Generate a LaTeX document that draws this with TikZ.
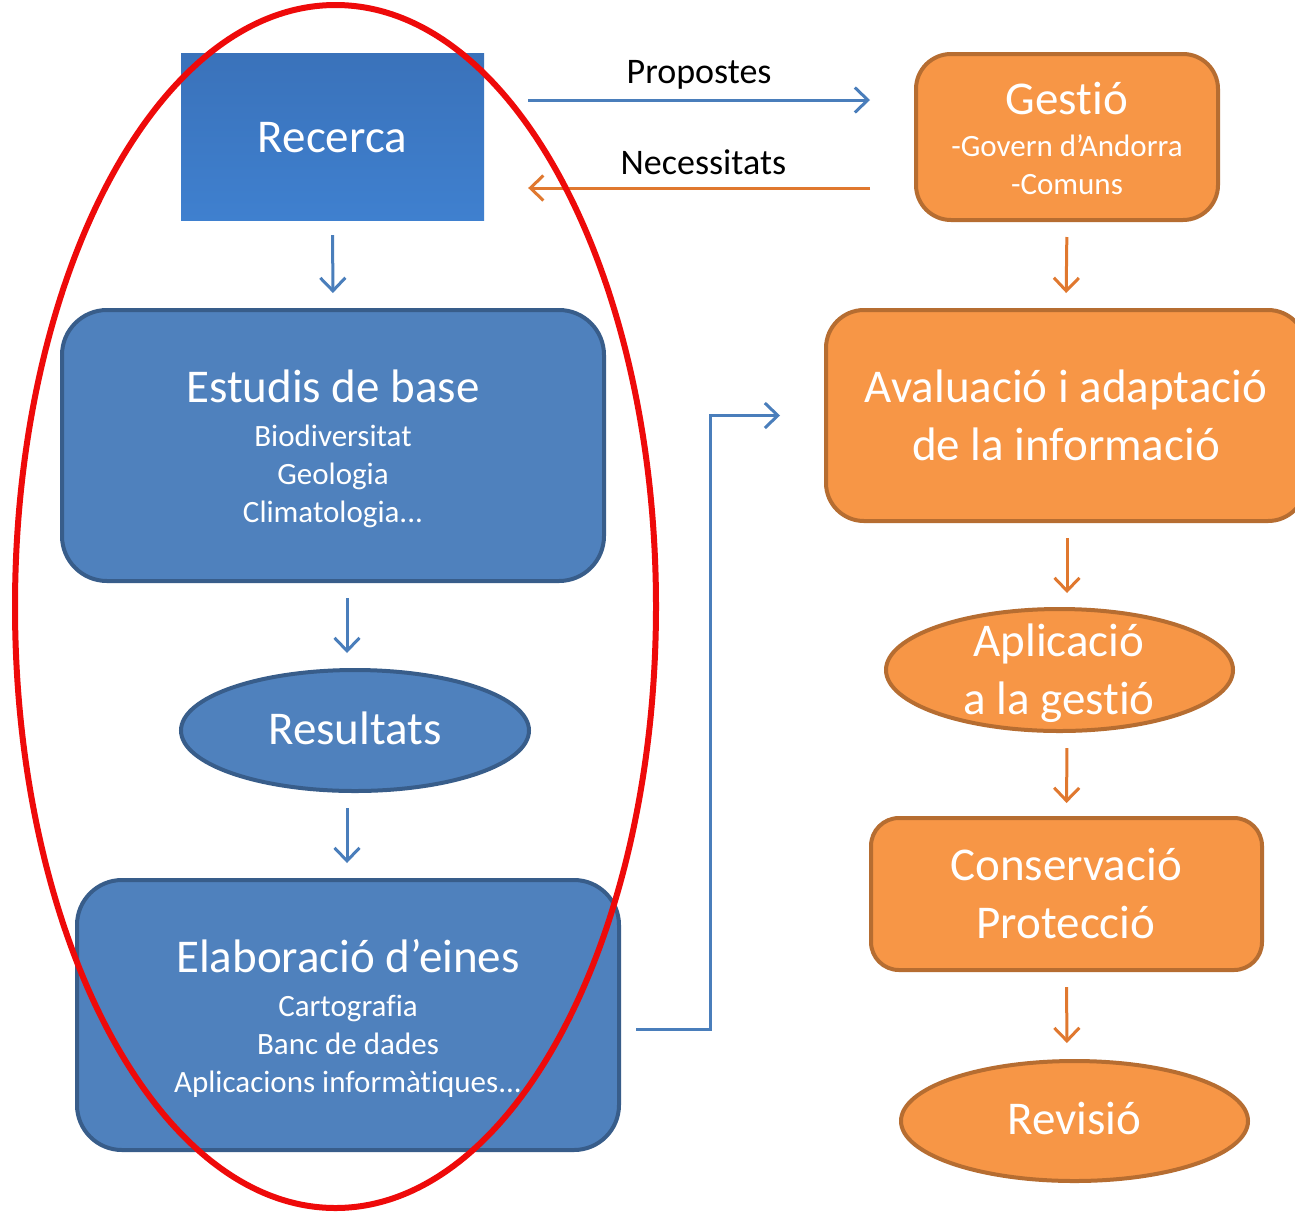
\documentclass[tikz,border=0pt]{standalone}
\usepackage{fontspec}
\setmainfont{Carlito}[Ligatures={NoCommon}]
\usetikzlibrary{shapes.geometric,arrows.meta}
\definecolor{bfill}{HTML}{4F81BD}
\definecolor{bline}{HTML}{385D8A}
\definecolor{ofill}{HTML}{F79646}
\definecolor{oline}{HTML}{B66D31}
\definecolor{barr}{HTML}{4A7EBB}
\definecolor{oarr}{HTML}{E0782F}
\definecolor{rtop}{HTML}{3A72BA}
\definecolor{rbot}{HTML}{3F80CF}
\definecolor{ellred}{HTML}{EE0A0A}
\newcommand{\fntbig}{\fontsize{47}{58}\selectfont}
\newcommand{\fntsmall}{\fontsize{31}{37.8}\selectfont}
\newcommand{\fntlab}{\fontsize{36}{43}\selectfont}
\begin{document}
\begin{tikzpicture}[x=1pt,y=-1pt,
  box/.style={rectangle, line width=4pt, inner sep=0pt, text=white},
  bluebox/.style={box, fill=bfill, draw=bline},
  orangebox/.style={box, fill=ofill, draw=oline},
  oval/.style={ellipse, line width=4pt, inner sep=0pt, text=white, font=\fntbig},
  blueoval/.style={oval, fill=bfill, draw=bline},
  orangeoval/.style={oval, fill=ofill, draw=oline},
  recbox/.style={rectangle, inner sep=0pt, top color=rtop, bottom color=rbot, text=white, font=\fntbig},
  blocktext/.style={text=white, align=center, inner sep=0pt, font=\fntsmall},
  bigtext/.style={text=white, align=center, inner sep=0pt, font=\fntbig},
  elabel/.style={text=black, inner sep=0pt, font=\fntlab, anchor=base},
  barrow/.style={draw=barr, line width=3pt, -{Straight Barb[length=13pt,width=25pt]}},
  oarrow/.style={draw=oarr, line width=3pt, -{Straight Barb[length=13pt,width=25pt]}}
]
\clip (0,0) rectangle (1295,1211);
\fill[white] (0,0) rectangle (1295,1211);

% left column
\node[recbox, minimum width=303pt, minimum height=167pt, text height=31pt, text depth=0pt] (recerca) at (332.5,136.5) {Recerca};
\node[bluebox, rounded corners=45pt, minimum width=542pt, minimum height=271pt] (estudis) at (333,445.5) {};
\node[blocktext, anchor=base] (estudist) at (333,522) {{\fntbig Estudis de base}\\[6pt]Biodiversitat\\Geologia\\Climatologia...};
\node[blueoval, minimum width=348pt, minimum height=121pt, text height=28pt, text depth=0pt] (resultats) at (355,730.5) {Resultats};
\node[bluebox, rounded corners=45pt, minimum width=542pt, minimum height=270pt] (elabora) at (348,1015) {};
\node[blocktext, anchor=base] (elaborat) at (348,1092) {{\fntbig Elaboració d’eines}\\[6pt]Cartografia\\Banc de dades\\Aplicacions informàtiques...};

% right column
\node[orangebox, rounded corners=35pt, minimum width=302pt, minimum height=166pt] (gestio) at (1067,137) {};
\node[blocktext, anchor=base] (gestiot) at (1067,194) {{\fntbig Gestió}\\[4pt]-Govern d’Andorra\\-Comuns};
\node[orangebox, rounded corners=38pt, minimum width=480pt, minimum height=211pt] (avalua) at (1066,415.5) {};
\node[bigtext, anchor=base] (avaluat) at (1066,460) {Avaluació i adaptació\\de la informació};
\node[orangeoval, minimum width=347pt, minimum height=122pt] (aplica) at (1059.5,670) {};
\node[bigtext, anchor=base] (aplicat) at (1059,714) {Aplicació\\a la gestió};
\node[orangebox, rounded corners=28pt, minimum width=391pt, minimum height=152pt] (conserva) at (1066.5,894) {};
\node[bigtext, anchor=base] (conservat) at (1066,938) {Conservació\\Protecció};
\node[orangeoval, minimum width=347pt, minimum height=120pt, text height=27pt, text depth=0pt] (revisio) at (1074.5,1121) {Revisió};

% connectors left
\draw[barrow, shorten <=15pt, shorten >=15pt] (recerca.south) -- (estudis.north);
\draw[barrow, shorten <=15pt, shorten >=15pt] ([xshift=14pt]estudis.south) -- ([xshift=-8pt]resultats.north);
\draw[barrow, shorten <=15pt, shorten >=15pt] ([xshift=-8pt]resultats.south) -- ([xshift=-1pt]elabora.north);

% horizontal connectors
\draw[barrow, shorten <=44pt, shorten >=44pt] ([yshift=36.5pt]recerca.east) -- ([yshift=37pt]gestio.west)
  node[elabel, pos=0.5, yshift=17pt] (lprop) {Propostes};
\draw[oarrow, shorten <=44pt, shorten >=44pt] ([yshift=-51pt]gestio.west) -- ([yshift=-51.5pt]recerca.east)
  node[elabel, pos=0.49, yshift=14pt] (lnec) {Necessitats};

% connectors right
\draw[oarrow, shorten <=15pt, shorten >=15pt] (gestio.south) -- (avalua.north);
\draw[oarrow, shorten <=15pt, shorten >=14pt] ([xshift=1pt]avalua.south) -- ([xshift=7.5pt]aplica.north);
\draw[oarrow, shorten <=15pt, shorten >=13pt] ([xshift=7.5pt]aplica.south) -- (conserva.north);
\draw[oarrow, shorten <=15pt, shorten >=16pt] (conserva.south) -- ([xshift=-7.5pt]revisio.north);

% elbow connector
\draw[barrow, shorten <=15pt, shorten >=44pt] ([yshift=-14pt]elabora.east) -- ++(89,0) |- (avalua.west);

% red ellipse
\draw[ellred, line width=6pt] (335.5,606.5) ellipse [x radius=320.5, y radius=601.5];
\end{tikzpicture}
\end{document}
